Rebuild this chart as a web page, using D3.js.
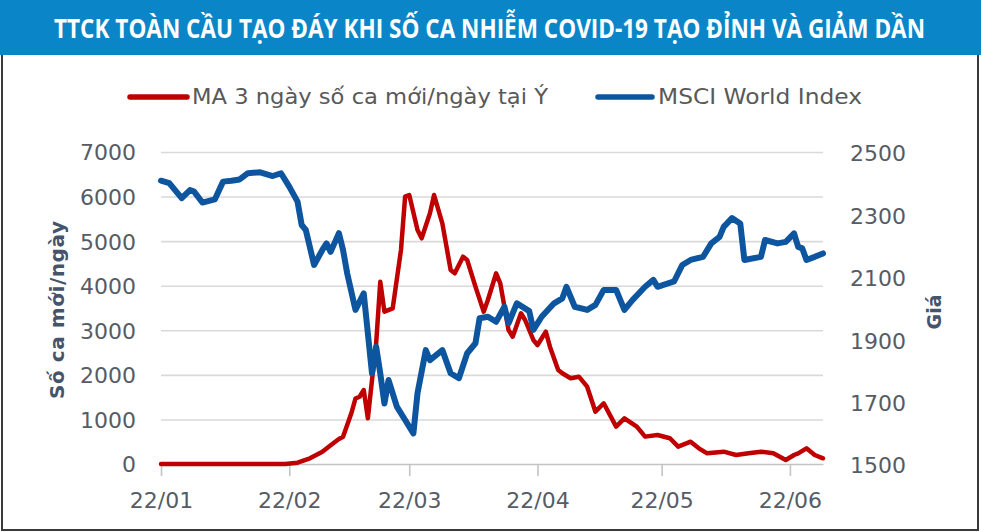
<!DOCTYPE html>
<html>
<head>
<meta charset="utf-8">
<script src="https://cdn.jsdelivr.net/npm/d3@7"></script>
<style>
  html, body { margin: 0; padding: 0; background: #fff; }
  svg { display: block; }
</style>
</head>
<body>
<div id="chart"></div>
<script>
// Italy: 3-day moving average of new cases per day
const caseDates = ["01-22","02-21","02-24","02-27","03-01","03-03","03-05","03-06","03-07","03-08",
  "03-09","03-10","03-11","03-12","03-13","03-14","03-15","03-16","03-18","03-20",
  "03-21","03-22","03-24","03-25","03-27","03-28","03-30","04-01","04-02","04-04",
  "04-05","04-07","04-09","04-10","04-12","04-13","04-15","04-16","04-18","04-19",
  "04-21","04-22","04-24","04-25","04-27","04-28","04-30","05-02","05-04","05-06",
  "05-08","05-11","05-13","05-16","05-18","05-21","05-24","05-26","05-29","05-31",
  "06-02","06-06","06-09","06-12","06-15","06-18","06-21","06-23","06-24","06-26",
  "06-28","06-30"];
const caseValues = [0, 0, 30, 128, 276, 420, 560, 612, 875, 1137,
  1470, 1510, 1660, 1025, 1885, 2708, 4090, 3417, 3493, 4801,
  5997, 6035, 5250, 5064, 5625, 6035, 5400, 4353, 4279, 4651,
  4577, 3978, 3417, 3679, 4279, 4054, 3006, 2856, 3381, 3231,
  2782, 2670, 2968, 2632, 2109, 2035, 1923, 1959, 1735, 1174,
  1362, 839, 1025, 839, 614, 651, 577, 389, 500, 352,
  240, 276, 202, 240, 276, 240, 90, 202, 240, 352,
  202, 128];

// MSCI World Index
const msciDates = ["01-22","01-24","01-27","01-29","01-30","02-01","02-04","02-06","02-08","02-10",
  "02-12","02-15","02-18","02-20","02-22","02-24","02-25","02-26","02-28","03-01",
  "03-02","03-03","03-05","03-06","03-07","03-09","03-11","03-13","03-14","03-15",
  "03-16","03-17","03-19","03-21","03-23","03-24","03-26","03-27","03-30","04-01",
  "04-03","04-05","04-07","04-08","04-10","04-12","04-14","04-15","04-17","04-20",
  "04-21","04-23","04-26","04-28","04-29","05-01","05-04","05-06","05-08","05-11",
  "05-13","05-15","05-18","05-20","05-21","05-25","05-27","05-29","06-01","06-03",
  "06-05","06-06","06-08","06-10","06-11","06-15","06-16","06-19","06-21","06-23",
  "06-24","06-25","06-26","06-28","06-30"];
const msciValues = [2408, 2400, 2352, 2378, 2373, 2338, 2348, 2405, 2408, 2412,
  2432, 2435, 2423, 2432, 2389, 2341, 2266, 2250, 2138, 2186,
  2207, 2180, 2240, 2186, 2111, 1994, 2047, 1790, 1876, 1790,
  1694, 1769, 1684, 1641, 1598, 1727, 1865, 1833, 1865, 1791,
  1775, 1855, 1887, 1967, 1972, 1956, 2004, 1951, 2015, 1990,
  1930, 1972, 2015, 2031, 2068, 2004, 1994, 2010, 2058, 2058,
  1994, 2026, 2068, 2090, 2068, 2085, 2138, 2154, 2164, 2207,
  2228, 2260, 2288, 2271, 2154, 2164, 2218, 2207, 2212, 2239,
  2196, 2191, 2154, 2164, 2175];

const xTickDates = ["01-22", "02-22", "03-22", "04-22", "05-22", "06-22"];
const leftTicks = [0, 1000, 2000, 3000, 4000, 5000, 6000, 7000];
const rightTicks = [1500, 1700, 1900, 2100, 2300, 2500];

const titleText = "TTCK TOÀN CẦU TẠO ĐÁY KHI SỐ CA NHIỄM COVID-19 TẠO ĐỈNH VÀ GIẢM DẦN";
const seriesNames = ["MA 3 ngày số ca mới/ngày tại Ý", "MSCI World Index"];

const W = 981, H = 532;
const plot = { left: 161, right: 823, top: 152, bottom: 464 };
const RED = "#c00000", BLUE = "#0d559e";
const labelFont = "'DejaVu Sans', Verdana, sans-serif";

const parse = d3.utcParse("%Y-%m-%d");
const toDate = s => parse("2020-" + s);

const cases = caseDates.map((d, i) => ({ date: toDate(d), value: caseValues[i] }));
const msci = msciDates.map((d, i) => ({ date: toDate(d), value: msciValues[i] }));

const svg = d3.select("#chart").append("svg")
  .attr("width", W)
  .attr("height", H);

// Scales
const x = d3.scaleUtc()
  .domain([toDate("01-22"), toDate("06-30")])
  .range([plot.left, plot.right]);

const yLeft = d3.scaleLinear()
  .domain([0, 7000])
  .range([plot.bottom, plot.top]);

const yRight = d3.scaleLinear()
  .domain([1500, 2500])
  .range([plot.bottom, plot.top]);

// Title banner
svg.append("rect")
  .attr("x", 0).attr("y", 0)
  .attr("width", W).attr("height", 55)
  .attr("fill", "#0a86c8");

// condensed look: narrow the glyphs, then stretch them a bit vertically
svg.append("text")
  .attr("transform", "translate(489.5,38) scale(1,1.15)")
  .attr("text-anchor", "middle")
  .attr("textLength", 871)
  .attr("lengthAdjust", "spacingAndGlyphs")
  .style("font-family", "'Open Sans', 'Noto Sans', sans-serif")
  .style("font-weight", "700")
  .style("font-size", "24px")
  .style("fill", "#ffffff")
  .text(titleText);

// Frame
svg.append("path")
  .attr("d", `M2,55V530H978V55`)
  .attr("fill", "none")
  .attr("stroke", "#3a3a3a")
  .attr("stroke-width", 2);

// Gridlines
const grid = svg.append("g")
  .attr("transform", `translate(${plot.left},0)`)
  .call(d3.axisLeft(yLeft).tickValues(leftTicks.slice(1)).tickSize(-(plot.right - plot.left)).tickFormat(""));
grid.select(".domain").remove();
grid.selectAll(".tick line").attr("stroke", "#d9d9d9").attr("stroke-width", 1.6);

// X axis
const xAxis = svg.append("g")
  .attr("transform", `translate(0,${plot.bottom})`)
  .call(d3.axisBottom(x)
    .tickValues(xTickDates.map(toDate))
    .tickSize(12)
    .tickSizeOuter(0)
    .tickPadding(16)
    .tickFormat(d3.utcFormat("%d/%m")));
xAxis.select(".domain").attr("stroke", "#c4c4c4").attr("stroke-width", 1.6);
xAxis.selectAll(".tick line").attr("stroke", "#c4c4c4").attr("stroke-width", 1.6);
xAxis.selectAll(".tick text")
  .style("font-family", labelFont)
  .style("font-size", "22px")
  .style("fill", "#565c66");

// Left axis
const leftAxis = svg.append("g")
  .attr("transform", `translate(${plot.left},0)`)
  .call(d3.axisLeft(yLeft).tickValues(leftTicks).tickSize(0).tickPadding(25).tickFormat(d3.format("d")));
leftAxis.select(".domain").remove();
leftAxis.selectAll(".tick text")
  .attr("dy", "0.36em")
  .style("font-family", labelFont)
  .style("font-size", "22px")
  .style("fill", "#565c66");

// Right axis
const rightAxis = svg.append("g")
  .attr("transform", `translate(${plot.right},0)`)
  .call(d3.axisRight(yRight).tickValues(rightTicks).tickSize(0).tickPadding(27).tickFormat(d3.format("d")));
rightAxis.select(".domain").remove();
rightAxis.selectAll(".tick text")
  .attr("dy", "0.40em")
  .style("font-family", labelFont)
  .style("font-size", "22px")
  .style("fill", "#565c66");

// Axis titles
svg.append("text")
  .attr("transform", "translate(64,310) rotate(-90)")
  .attr("text-anchor", "middle")
  .attr("textLength", 178)
  .attr("lengthAdjust", "spacing")
  .style("font-family", labelFont)
  .style("font-weight", "700")
  .style("font-size", "20px")
  .style("fill", "#44546a")
  .text("Số ca mới/ngày");

svg.append("text")
  .attr("transform", "translate(941,312) rotate(-90)")
  .attr("text-anchor", "middle")
  .style("font-family", labelFont)
  .style("font-weight", "700")
  .style("font-size", "19px")
  .style("fill", "#44546a")
  .text("Giá");

// Lines
const caseLine = d3.line()
  .x(d => x(d.date))
  .y(d => yLeft(d.value));

const msciLine = d3.line()
  .x(d => x(d.date))
  .y(d => yRight(d.value));

svg.append("path")
  .datum(cases)
  .attr("d", caseLine)
  .attr("fill", "none")
  .attr("stroke", RED)
  .attr("stroke-width", 4.5)
  .attr("stroke-linejoin", "round")
  .attr("stroke-linecap", "round");

svg.append("path")
  .datum(msci)
  .attr("d", msciLine)
  .attr("fill", "none")
  .attr("stroke", BLUE)
  .attr("stroke-width", 6)
  .attr("stroke-linejoin", "round")
  .attr("stroke-linecap", "round");

// Legend
const legend = [
  { name: seriesNames[0], color: RED, x0: 130, x1: 187, tx: 192, len: 356 },
  { name: seriesNames[1], color: BLUE, x0: 598, x1: 652, tx: 658, len: 204 }
];

legend.forEach(l => {
  svg.append("line")
    .attr("x1", l.x0).attr("x2", l.x1)
    .attr("y1", 97).attr("y2", 97)
    .attr("stroke", l.color)
    .attr("stroke-width", 5.5)
    .attr("stroke-linecap", "round");
  svg.append("text")
    .attr("x", l.tx).attr("y", 104)
    .attr("textLength", l.len)
    .attr("lengthAdjust", "spacingAndGlyphs")
    .style("font-family", labelFont)
    .style("font-size", "21px")
    .style("fill", "#595959")
    .text(l.name);
});
</script>
</body>
</html>
